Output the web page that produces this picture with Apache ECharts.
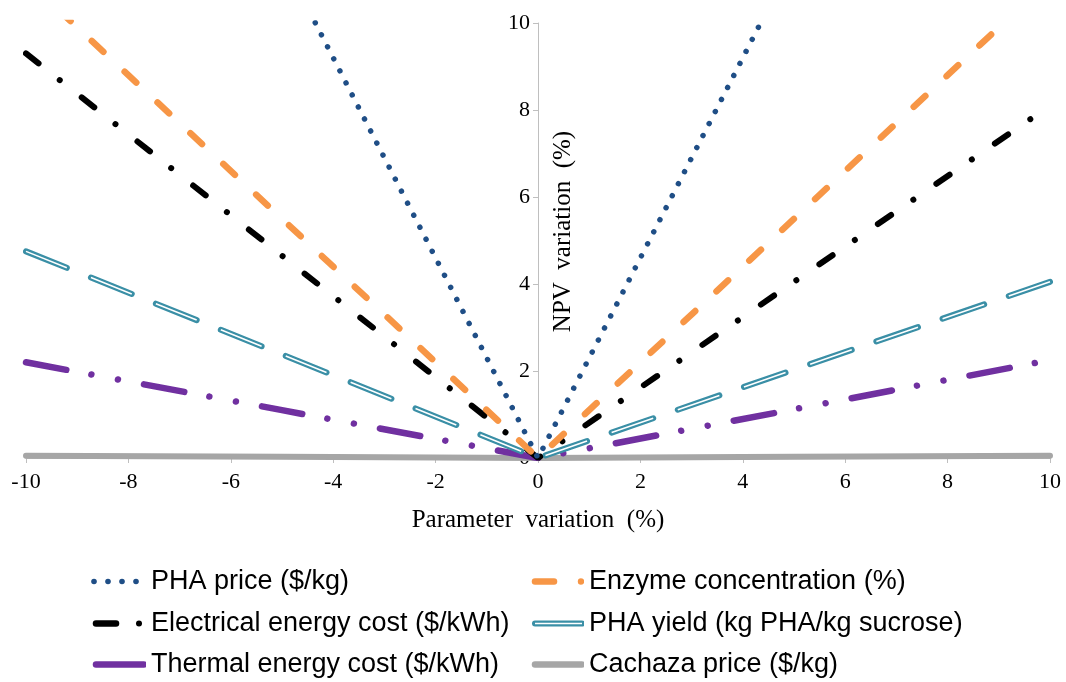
<!DOCTYPE html>
<html>
<head>
<meta charset="utf-8">
<script src="https://cdn.jsdelivr.net/npm/echarts@6/dist/echarts.min.js"></script>
<style>html,body{margin:0;padding:0;background:#fff}#c{width:1066px;height:682px}</style>
</head>
<body>
<div id="c"></div>
<script>
// Parameter variation (%)
const xValues = [-10, -5, 0, 5, 10];
// NPV variation (%) per parameter
const phaPrice    = [23.0, 11.5, 0, 11.5, 23.0];
const enzyme      = [11.0, 5.5, 0, 5.5, 11.0];
const electrical  = [9.3, 4.65, 0, 4.05, 8.1];
const phaYield    = [4.75, 2.38, 0, 2.03, 4.05];
const thermal     = [2.2, 1.1, 0, 1.12, 2.25];
const cachaza     = [0.05, 0.03, 0, 0.03, 0.05];
const seriesNames = ['PHA price ($/kg)', 'Enzyme concentration (%)', 'Electrical energy cost ($/kWh)',
  'PHA yield (kg PHA/kg sucrose)', 'Thermal energy cost ($/kWh)', 'Cachaza price ($/kg)'];
const xTicks = [-10, -8, -6, -4, -2, 0, 2, 4, 6, 8, 10];
const yTicks = [0, 2, 4, 6, 8, 10];

const pairs = arr => xValues.map((x, i) => [x, arr[i]]);
const chart = echarts.init(document.getElementById('c'));
const serif = 'Liberation Serif, Times New Roman, serif';
const sans = 'Liberation Sans, Arial, sans-serif';

const C = { price: '#1f4e86', enzyme: '#f79646', elec: '#000000', yield: '#3a8fa6', thermal: '#7030a0', cachaza: '#a6a6a6' };

function line(name, data, color, width, type, extra) {
  return Object.assign({
    name: name, type: 'line', data: pairs(data), symbol: 'none', silent: true,
    clip: true,
    lineStyle: { color: color, width: width, type: type, cap: 'round' },
    itemStyle: { color: color }
  }, extra || {});
}

function svgIcon(body) {
  return 'image://data:image/svg+xml;utf8,' + encodeURIComponent(
    '<svg xmlns="http://www.w3.org/2000/svg" width="58" height="20" viewBox="0 0 58 20">' + body + '</svg>');
}
const icons = [
  svgIcon('<g fill="' + C.price + '"><circle cx="6" cy="10" r="2.8"/><circle cx="20" cy="10" r="2.8"/><circle cx="34" cy="10" r="2.8"/><circle cx="48" cy="10" r="2.8"/></g>'),
  svgIcon('<line x1="9" y1="10" x2="28" y2="10" stroke="' + C.enzyme + '" stroke-width="6.5" stroke-linecap="round"/><circle cx="55" cy="10" r="3.2" fill="' + C.enzyme + '"/>'),
  svgIcon('<line x1="8" y1="10" x2="28" y2="10" stroke="' + C.elec + '" stroke-width="6.5" stroke-linecap="round"/><circle cx="51" cy="10" r="3" fill="' + C.elec + '"/>'),
  svgIcon('<line x1="9" y1="10" x2="56" y2="10" stroke="' + C.yield + '" stroke-width="6" stroke-linecap="round"/><line x1="9" y1="10" x2="56" y2="10" stroke="#ffffff" stroke-width="1.6"/>'),
  svgIcon('<line x1="8" y1="10" x2="56" y2="10" stroke="' + C.thermal + '" stroke-width="6.5" stroke-linecap="round"/>'),
  svgIcon('<line x1="9" y1="10" x2="56" y2="10" stroke="' + C.cachaza + '" stroke-width="6.5" stroke-linecap="round"/>')
];
const legendPos = [[88, 568], [526, 568], [88, 610], [526, 610], [88, 651], [526, 651]];
const legends = seriesNames.map((n, i) => ({
  left: legendPos[i][0], top: legendPos[i][1], padding: 0,
  itemWidth: 58, itemHeight: 20, selectedMode: false,
  textStyle: { fontFamily: sans, fontSize: 27, color: '#000' },
  data: [{ name: n, icon: icons[i] }]
}));

chart.setOption({
  animation: false,
  grid: { left: 26, right: 16, top: 23, bottom: 224, containLabel: false, outerBoundsMode: 'none' },
  xAxis: {
    type: 'value', min: -10, max: 10, interval: 2,
    axisLine: { show: true, onZero: false, lineStyle: { color: '#bfbfbf', width: 1 } },
    axisTick: { show: true, length: 5, lineStyle: { color: '#bfbfbf' } },
    axisLabel: { fontFamily: serif, fontSize: 22, color: '#000', margin: 13 },
    splitLine: { show: false },
    name: 'Parameter  variation  (%)', nameLocation: 'middle', nameGap: 50, nameMoveOverlap: false,
    nameTextStyle: { fontFamily: serif, fontSize: 25, color: '#000' }
  },
  yAxis: {
    type: 'value', min: 0, max: 10, interval: 2, position: 'left', offset: -512,
    axisLine: { show: true, onZero: false, lineStyle: { color: '#bfbfbf', width: 1 } },
    axisTick: { show: true, length: 5, lineStyle: { color: '#bfbfbf' } },
    axisLabel: { fontFamily: serif, fontSize: 22, color: '#000', margin: 8 },
    splitLine: { show: false },
    name: 'NPV  variation  (%)', nameLocation: 'middle', nameRotate: 90, nameGap: -38, nameMoveOverlap: false,
    nameTextStyle: { fontFamily: serif, fontSize: 25, color: '#000', padding: [0, 0, 0, 18] }
  },
  legend: legends,
  series: [
    line(seriesNames[5], cachaza, C.cachaza, 6, 'solid', { z: 2 }),
    line(seriesNames[4], thermal, C.thermal, 6.5, [41, 25.5, 0.01, 27, 0.01, 26.5], { z: 3 }),
    line(seriesNames[3], phaYield, C.yield, 6, [44, 26], { z: 4 }),
    line('yield-inner', phaYield, '#ffffff', 1.6, [44, 26], { z: 5, lineStyle: { color: '#ffffff', width: 1.6, type: [44, 26], cap: 'butt' } }),
    line(seriesNames[2], electrical, C.elec, 6, [16, 27, 0.01, 28], { z: 6 }),
    line(seriesNames[1], enzyme, C.enzyme, 6.5, [16, 29], { z: 7 }),
    line(seriesNames[0], phaPrice, C.price, 5.5, [0.01, 13.5], { z: 8 })
  ]
});
</script>
</body>
</html>
